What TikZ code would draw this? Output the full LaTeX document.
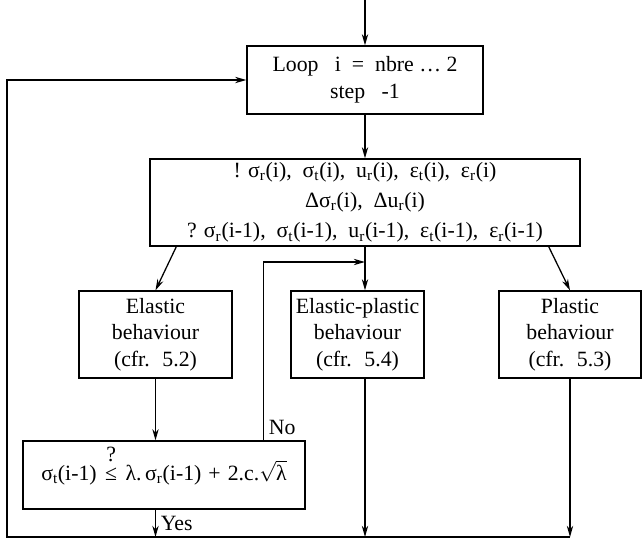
\documentclass[tikz,border=0pt]{standalone}
\usepackage{fontspec}
\setmainfont{Liberation Serif}
\usetikzlibrary{arrows.meta}

\begin{document}
\begin{tikzpicture}[x=0.025cm,y=-0.025cm,line width=0.9pt,
    font=\fontsize{15.5}{19}\selectfont,
    box/.style={draw,inner sep=0pt},
    arr/.style={-{Stealth[length=8pt,width=4.5pt]}}]
        \useasboundingbox (0,0) rectangle (643,539);

        \node[box,align=center,minimum width=5.9cm,minimum height=1.7cm] (loop) at (365,80)
          {Loop~~ i~ = ~nbre … 2\\step~~ -1};

        \node[box,align=center,minimum width=10.75cm,minimum height=2.175cm,
          font=\fontsize{15.5}{21.5}\selectfont] (comp) at (365,202.5)
          {! σ\textsubscript{r}(i),~ σ\textsubscript{t}(i),~ u\textsubscript{r}(i),~ ε\textsubscript{t}(i),~ ε\textsubscript{r}(i)\\
           Δσ\textsubscript{r}(i),~ Δu\textsubscript{r}(i)\\
           ? σ\textsubscript{r}(i-1),~ σ\textsubscript{t}(i-1),~ u\textsubscript{r}(i-1),~ ε\textsubscript{t}(i-1),~ ε\textsubscript{r}(i-1)};

        \node[box,align=center,minimum width=3.825cm,minimum height=2.175cm] (elastic) at (155.5,334.5)
          {Elastic\\behaviour\\(cfr.~ 5.2)};
        \node[box,align=center,minimum width=3.325cm,minimum height=2.175cm] (elplastic) at (357.5,334.5)
          {Elastic-plastic\\behaviour\\(cfr.~ 5.4)};
        \node[box,align=center,minimum width=3.55cm,minimum height=2.175cm] (plastic) at (570,334.5)
          {Plastic\\behaviour\\(cfr.~ 5.3)};

        \node[box,minimum width=7.05cm,text height=0.975cm,text depth=0.725cm] (check) at (164,475)
          {σ\textsubscript{t}(i-1)\hspace{6pt}\shortstack{?\\[1pt]≤}\hspace{6pt}λ.\,σ\textsubscript{r}(i-1)\hspace{5pt}+\hspace{5pt}2.c.$\sqrt{\mbox{λ}}$};

        \coordinate (start) at (365,0);
        \coordinate (base) at (7,537);
        \coordinate (nostart) at ([xshift=-1.05cm]check.north east);
        \coordinate (join) at (365,262);

        \draw[arr] (start) -- (loop.north);
        \draw[arr] (loop.south) -- (comp.north);
        \draw[arr] ([xshift=0.675cm]comp.south west) -- (elastic.north);
        \draw[arr] (comp.south) -- (comp.south |- elplastic.north);
        \draw[arr] ([xshift=-0.8cm]comp.south east) -- (plastic.north);
        \draw[arr] (elastic.south) -- (elastic.south |- check.north);
        \draw[arr] (nostart) node[above right]{No} |- (join);

        \draw[arr] (check.south -| elastic.south) -- (elastic.south |- base)
          node[midway,right]{Yes};
        \draw[arr] (comp.south |- elplastic.south) -- (comp.south |- base);
        \draw[arr] (plastic.south) -- (plastic.south |- base);
        \draw[arr] (plastic.south |- base) -- (base) |- (loop.west);
      \end{tikzpicture}
\end{document}
